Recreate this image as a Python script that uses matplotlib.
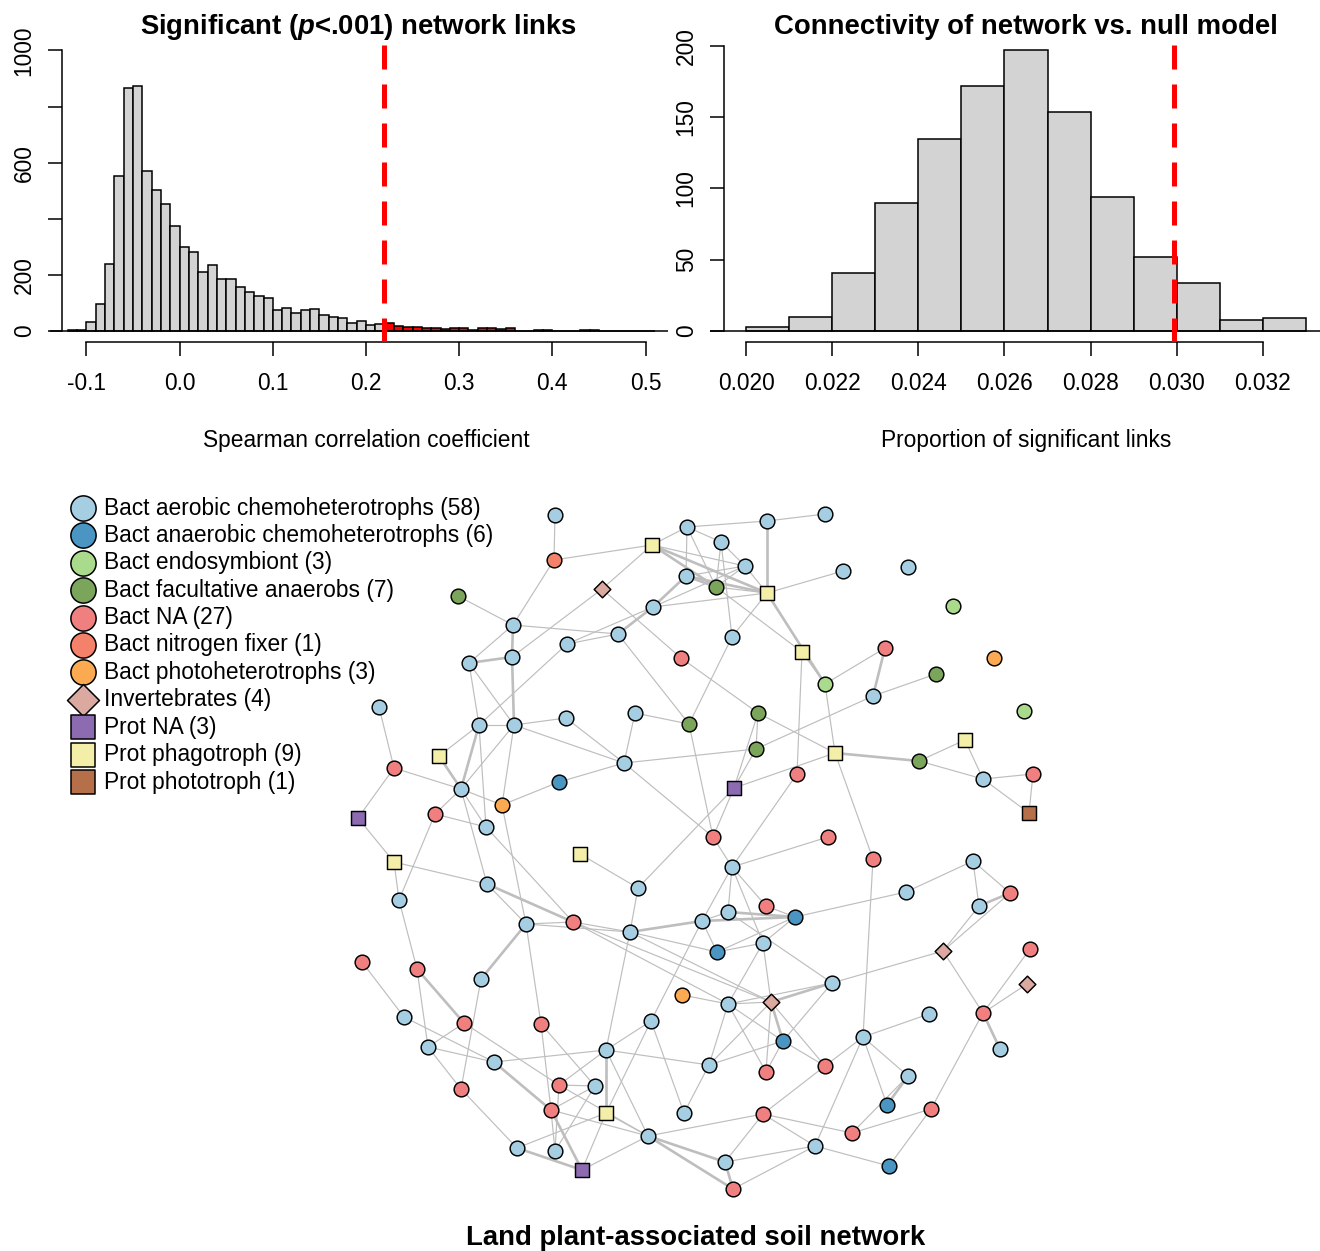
import numpy as np
import matplotlib
matplotlib.use('Agg')
import matplotlib.pyplot as plt
from matplotlib.collections import LineCollection

plt.rcParams['font.family'] = ['Liberation Sans', 'DejaVu Sans']
plt.rcParams['mathtext.fontset'] = 'custom'
plt.rcParams['mathtext.it'] = 'Liberation Sans:italic:bold'
plt.rcParams['mathtext.rm'] = 'Liberation Sans:bold'
plt.rcParams['mathtext.bf'] = 'Liberation Sans:bold'

# ---------------- data: Spearman correlation histogram ----------------
corr_first_break = -0.12
corr_bin_width = 0.01
corr_counts = [2, 5, 33, 97, 238, 552, 866, 872, 570, 501, 454, 374, 301, 280,
               210, 236, 187, 187, 158, 138, 126, 117, 75, 82, 65, 74, 77, 56,
               51, 45, 27, 35, 22, 26, 27, 17, 15, 15, 11, 9, 8, 9, 12, 4, 11,
               11, 6, 9, 1, 1, 2, 2, 1, 1, 1, 3, 2, 1, 1, 0, 1, 0, 1]
corr_threshold = 0.2196
corr_xticks = [-0.1, 0.0, 0.1, 0.2, 0.3, 0.4, 0.5]
corr_yticks = [0, 200, 400, 600, 800, 1000]
corr_yticklabels = ['0', '200', '', '600', '', '1000']

# ---------------- data: null model histogram ----------------
null_first_break = 0.020
null_bin_width = 0.001
null_counts = [3, 10, 41, 90, 135, 172, 197, 154, 94, 52, 34, 8, 9]
observed_connectivity = 0.02994
null_xticks = [0.020, 0.022, 0.024, 0.026, 0.028, 0.030, 0.032]
null_yticks = [0, 50, 100, 150, 200]

# ---------------- data: network ----------------
group_names = ['Bact aerobic chemoheterotrophs', 'Bact anaerobic chemoheterotrophs',
               'Bact endosymbiont', 'Bact facultative anaerobs', 'Bact NA',
               'Bact nitrogen fixer', 'Bact photoheterotrophs', 'Invertebrates',
               'Prot NA', 'Prot phagotroph', 'Prot phototroph']
group_codes = ['AE', 'AN', 'EN', 'FA', 'NA', 'NF', 'PH', 'IN', 'PN', 'PP', 'PT']
group_colors = ['#A6CEE3', '#4A95C2', '#AADB8C', '#7BA55A', '#F08080', '#F4826A',
                '#FCAA52', '#DBA9A0', '#8C6BB1', '#F4EFA8', '#B5704A']
group_markers = ['o', 'o', 'o', 'o', 'o', 'o', 'o', 'D', 's', 's', 's']

layout_x = [555, 554, 652, 687, 721, 767, 825, 745, 686, 716, 767, 843, 908, 602, 458,
            513, 653, 618, 567, 732, 953, 802, 885, 681, 994, 469, 512, 825, 936, 873,
            379, 1024, 479, 514, 566, 635, 689, 758, 756, 439, 624, 835, 919, 965, 394,
            461, 559, 734, 797, 983, 1033, 1029, 358, 435, 502, 486, 713, 828, 394, 580,
            732, 873, 973, 638, 487, 399, 906, 1010, 979, 766, 728, 702, 795, 573, 526,
            630, 763, 717, 943, 1030, 362, 417, 481, 1027, 682, 832, 771, 728, 404, 464,
            541, 651, 929, 983, 428, 863, 783, 606, 1000, 494, 709, 825, 766, 559, 595,
            908, 461, 551, 606, 684, 763, 887, 931, 852, 648, 517, 555, 815, 582, 725,
            889, 733]
layout_y = [515, 560, 545, 527, 542, 521, 514, 566, 576, 587, 593, 571, 567, 589, 596,
            625, 607, 634, 644, 637, 606, 652, 648, 658, 658, 663, 657, 684, 674, 696,
            707, 711, 725, 725, 718, 713, 724, 713, 749, 756, 763, 753, 761, 740, 768,
            789, 782, 788, 774, 779, 774, 813, 818, 814, 805, 827, 837, 837, 862, 854,
            867, 859, 861, 888, 884, 900, 892, 893, 906, 906, 912, 921, 917, 922, 924,
            932, 943, 952, 951, 949, 962, 969, 979, 984, 995, 983, 1002, 1004, 1017, 1023,
            1024, 1021, 1014, 1013, 1047, 1037, 1041, 1050, 1049, 1062, 1065, 1066, 1072, 1085, 1086,
            1076, 1089, 1110, 1113, 1113, 1114, 1105, 1109, 1133, 1136, 1148, 1151, 1146, 1170, 1162,
            1166, 1189]
node_group = ['AE', 'NF', 'PP', 'AE', 'AE', 'AE', 'AE', 'AE', 'AE', 'FA', 'PP', 'AE', 'AE', 'IN', 'FA',
              'AE', 'AE', 'AE', 'AE', 'AE', 'EN', 'PP', 'NA', 'NA', 'PH', 'AE', 'AE', 'EN', 'FA', 'AE',
              'AE', 'EN', 'AE', 'AE', 'AE', 'AE', 'FA', 'FA', 'FA', 'PP', 'AE', 'PP', 'FA', 'PP', 'NA',
              'AE', 'AN', 'PN', 'NA', 'AE', 'NA', 'PT', 'PN', 'NA', 'PH', 'AE', 'NA', 'NA', 'PP', 'PP',
              'AE', 'NA', 'AE', 'AE', 'AE', 'AE', 'AE', 'NA', 'AE', 'NA', 'AE', 'AE', 'AN', 'NA', 'AE',
              'AE', 'AE', 'AN', 'IN', 'NA', 'NA', 'NA', 'AE', 'IN', 'PH', 'AE', 'IN', 'AE', 'AE', 'NA',
              'NA', 'AE', 'AE', 'NA', 'AE', 'AE', 'AN', 'AE', 'AE', 'AE', 'AE', 'NA', 'NA', 'NA', 'AE',
              'AE', 'NA', 'NA', 'PP', 'AE', 'NA', 'AN', 'NA', 'NA', 'AE', 'AE', 'AE', 'AE', 'PN', 'AE',
              'AN', 'NA']

# links: (node a, node b, strength 1 = weak, 2 = strong), 1-based node numbers
links = [(1, 2, 1), (2, 3, 1), (2, 16, 1), (3, 4, 1), (3, 8, 1), (3, 10, 2), (3, 11, 2), (3, 14, 1),
         (4, 6, 1), (4, 5, 1), (4, 9, 1), (4, 10, 1), (5, 10, 1), (5, 20, 1), (5, 8, 1), (6, 7, 1),
         (6, 11, 2), (9, 8, 1), (9, 10, 2), (9, 11, 2), (8, 11, 1), (8, 10, 1), (10, 11, 1), (11, 12, 1),
         (11, 20, 1), (11, 28, 2), (10, 22, 1), (22, 28, 1), (22, 49, 1), (20, 37, 1), (24, 38, 1),
         (38, 42, 1), (23, 28, 1), (23, 30, 2), (29, 30, 1), (28, 42, 1), (30, 39, 1), (38, 39, 1),
         (38, 48, 1), (14, 27, 1), (14, 24, 1), (15, 16, 1), (16, 27, 2), (16, 18, 1), (16, 26, 1),
         (26, 27, 2), (27, 34, 2), (26, 33, 1), (26, 34, 1), (19, 33, 1), (18, 19, 1), (17, 19, 1),
         (17, 18, 2), (17, 9, 2), (17, 8, 1), (17, 11, 1), (18, 37, 1), (36, 37, 1), (36, 41, 1),
         (35, 41, 1), (34, 35, 1), (33, 34, 1), (31, 45, 1), (34, 41, 1), (42, 43, 2), (43, 44, 1),
         (43, 50, 1), (44, 50, 1), (50, 51, 1), (50, 52, 1), (51, 52, 1), (48, 42, 1), (49, 61, 1),
         (42, 62, 1), (62, 96, 1), (39, 48, 1), (39, 41, 1), (37, 57, 1), (57, 61, 1), (48, 57, 1),
         (48, 64, 1), (61, 58, 1), (61, 70, 1), (61, 71, 1), (61, 72, 1), (61, 77, 1), (71, 73, 2),
         (72, 73, 2), (71, 72, 1), (70, 73, 1), (73, 77, 1), (73, 78, 1), (73, 67, 1), (67, 63, 1),
         (63, 69, 1), (63, 68, 1), (68, 69, 2), (68, 79, 1), (69, 79, 1), (79, 86, 1), (79, 94, 1),
         (80, 94, 1), (72, 78, 1), (77, 78, 1), (45, 53, 1), (45, 46, 1), (46, 55, 1), (40, 46, 2),
         (46, 56, 1), (46, 33, 2), (46, 34, 1), (56, 33, 1), (55, 34, 1), (55, 47, 1), (47, 41, 1),
         (41, 57, 1), (60, 64, 1), (64, 76, 1), (54, 56, 1), (54, 46, 1), (54, 66, 1), (53, 59, 1),
         (59, 66, 1), (59, 65, 1), (66, 82, 1), (65, 75, 1), (65, 74, 2), (46, 65, 1), (56, 74, 1),
         (55, 75, 1), (75, 74, 1), (75, 76, 1), (74, 76, 1), (74, 87, 1), (74, 88, 1), (76, 72, 2),
         (76, 78, 1), (76, 98, 1), (75, 91, 1), (75, 83, 2), (40, 33, 1), (81, 89, 1), (82, 95, 1),
         (82, 90, 2), (90, 95, 1), (89, 100, 1), (95, 100, 1), (95, 107, 1), (83, 107, 1),
         (90, 104, 1), (100, 108, 2), (100, 98, 1), (107, 116, 1), (116, 119, 2), (116, 109, 1),
         (117, 108, 1), (117, 104, 1), (108, 119, 2), (119, 115, 1), (119, 109, 1), (91, 108, 1),
         (91, 105, 1), (104, 105, 1), (104, 98, 1), (108, 105, 1), (117, 105, 1), (98, 109, 2),
         (98, 92, 1), (98, 115, 1), (98, 101, 1), (92, 109, 1), (92, 110, 1), (92, 72, 1),
         (85, 88, 1), (76, 87, 1), (109, 115, 1), (104, 115, 1), (108, 115, 1), (115, 120, 2),
         (115, 111, 1), (115, 122, 2), (86, 87, 2), (86, 88, 1), (86, 97, 1), (88, 87, 1),
         (88, 103, 1), (88, 97, 1), (88, 101, 1), (77, 88, 1), (87, 97, 2), (87, 103, 1),
         (87, 102, 1), (87, 101, 1), (77, 87, 1), (97, 103, 1), (97, 102, 1), (97, 101, 1),
         (102, 96, 1), (102, 111, 1), (96, 93, 1), (96, 106, 1), (96, 112, 1), (96, 118, 1),
         (106, 112, 2), (106, 114, 1), (113, 114, 1), (113, 94, 1), (113, 121, 1), (94, 99, 2),
         (94, 84, 1), (111, 114, 1), (111, 118, 1), (111, 120, 1), (118, 120, 1), (118, 122, 1),
         (118, 121, 1), (120, 122, 2), (101, 110, 1), (71, 86, 1)]

# ---------------- figure ----------------
W, H = 1320, 1251
fig = plt.figure(figsize=(W / 100, H / 100), dpi=100)


def px_axes(x0, y0, x1, y1):
    return fig.add_axes([x0 / W, 1 - y1 / H, (x1 - x0) / W, (y1 - y0) / H])


TXT = 16.4
TTL = 19.8
LW = 1.1


def style_hist_axes(ax, spine_x, xbounds, ybounds):
    for s in ['top', 'right']:
        ax.spines[s].set_visible(False)
    ax.spines['left'].set_position(('data', spine_x))
    ax.spines['left'].set_bounds(*ybounds)
    ax.spines['bottom'].set_bounds(*xbounds)
    for s in ['left', 'bottom']:
        ax.spines[s].set_linewidth(LW)
    ax.tick_params(axis='both', direction='out', length=9.9, width=LW,
                   labelsize=TXT, colors='black')
    ax.tick_params(axis='x', pad=12)
    ax.tick_params(axis='y', pad=9)


# left histogram
ax1 = px_axes(50, 43, 668, 342)
breaks1 = corr_first_break + corr_bin_width * np.arange(len(corr_counts))
cols1 = ['#FF0000' if b >= corr_threshold else '#D3D3D3' for b in breaks1]
ax1.bar(breaks1, corr_counts, width=corr_bin_width, align='edge', color=cols1,
        edgecolor='black', linewidth=LW, zorder=2)
ax1.set_xlim(-0.13916, 0.52414)
ax1.set_ylim(-39.2, 1026.7)
ax1.axhline(0, color='black', lw=LW, zorder=3)
ax1.axvline(corr_threshold, color='#FF0000', lw=3.6, linestyle=(0, (4.8, 3.0)),
            dash_capstyle='butt', zorder=4)
style_hist_axes(ax1, -0.12629, (-0.1, 0.5), (0, 1000))
ax1.set_xticks(corr_xticks)
ax1.set_xticklabels(['%.1f' % v for v in corr_xticks])
ax1.set_yticks(corr_yticks)
ax1.set_yticklabels(corr_yticklabels, rotation=90, va='center')

# right histogram
ax2 = px_axes(710, 43, 1342, 342)
breaks2 = null_first_break + null_bin_width * np.arange(len(null_counts))
ax2.bar(breaks2, null_counts, width=null_bin_width, align='edge', color='#D3D3D3',
        edgecolor='black', linewidth=LW, zorder=2)
ax2.set_xlim(0.0191644, 0.0338337)
ax2.set_ylim(-7.72, 202.1)
ax2.axhline(0, color='black', lw=LW, zorder=3)
ax2.axvline(observed_connectivity, color='#FF0000', lw=3.6, linestyle=(0, (4.8, 3.0)),
            dash_capstyle='butt', zorder=4)
style_hist_axes(ax2, 0.019489, (0.020, 0.032), (0, 200))
ax2.set_xticks(null_xticks)
ax2.set_xticklabels(['%.3f' % v for v in null_xticks])
ax2.set_yticks(null_yticks)
ax2.set_yticklabels([str(v) for v in null_yticks], rotation=90, va='center')

# titles and labels
fig.text(359 / W, 1 - 27 / H, r'Significant ($\it{p}$<.001) network links',
         ha='center', va='center', fontsize=TTL, fontweight='bold')
fig.text(1026 / W, 1 - 27 / H, 'Connectivity of network vs. null model',
         ha='center', va='center', fontsize=TTL, fontweight='bold')
fig.text(366 / W, 1 - 440 / H, 'Spearman correlation coefficient',
         ha='center', va='center', fontsize=TXT)
fig.text(1026 / W, 1 - 440 / H, 'Proportion of significant links',
         ha='center', va='center', fontsize=TXT)

# network
axn = fig.add_axes([0, 0, 1, 1])
axn.set_xlim(0, W)
axn.set_ylim(H, 0)
axn.axis('off')
axn.patch.set_visible(False)

lx = np.array(layout_x, float)
ly = np.array(layout_y, float)
segs = [[(lx[a - 1], ly[a - 1]), (lx[b - 1], ly[b - 1])] for a, b, w in links]
lws = [0.85 if w == 1 else 1.9 for a, b, w in links]
axn.add_collection(LineCollection(segs, colors='#BEBEBE', linewidths=lws, zorder=1))

node_group_arr = np.array(node_group)
node_size = {'o': 112, 's': 112, 'D': 72}
for code, col, mk in zip(group_codes, group_colors, group_markers):
    m = node_group_arr == code
    axn.scatter(lx[m], ly[m], s=node_size[mk], marker=mk, c=col,
                edgecolors='black', linewidths=1.05, zorder=3)

# legend
leg_size = {'o': 330, 's': 280, 'D': 265}
for i, (name, code, col, mk) in enumerate(zip(group_names, group_codes,
                                              group_colors, group_markers)):
    n = int(np.sum(node_group_arr == code))
    yy = 508 + 27.4 * i
    axn.scatter([83], [yy], s=leg_size[mk], marker=mk, c=col, edgecolors='black',
                linewidths=1.1, zorder=3)
    axn.text(104, yy, '%s (%d)' % (name, n), ha='left', va='center', fontsize=TXT)

axn.text(696, 1238, 'Land plant-associated soil network', ha='center', va='center',
         fontsize=TTL, fontweight='bold')

fig.savefig('out.png', dpi=100)
